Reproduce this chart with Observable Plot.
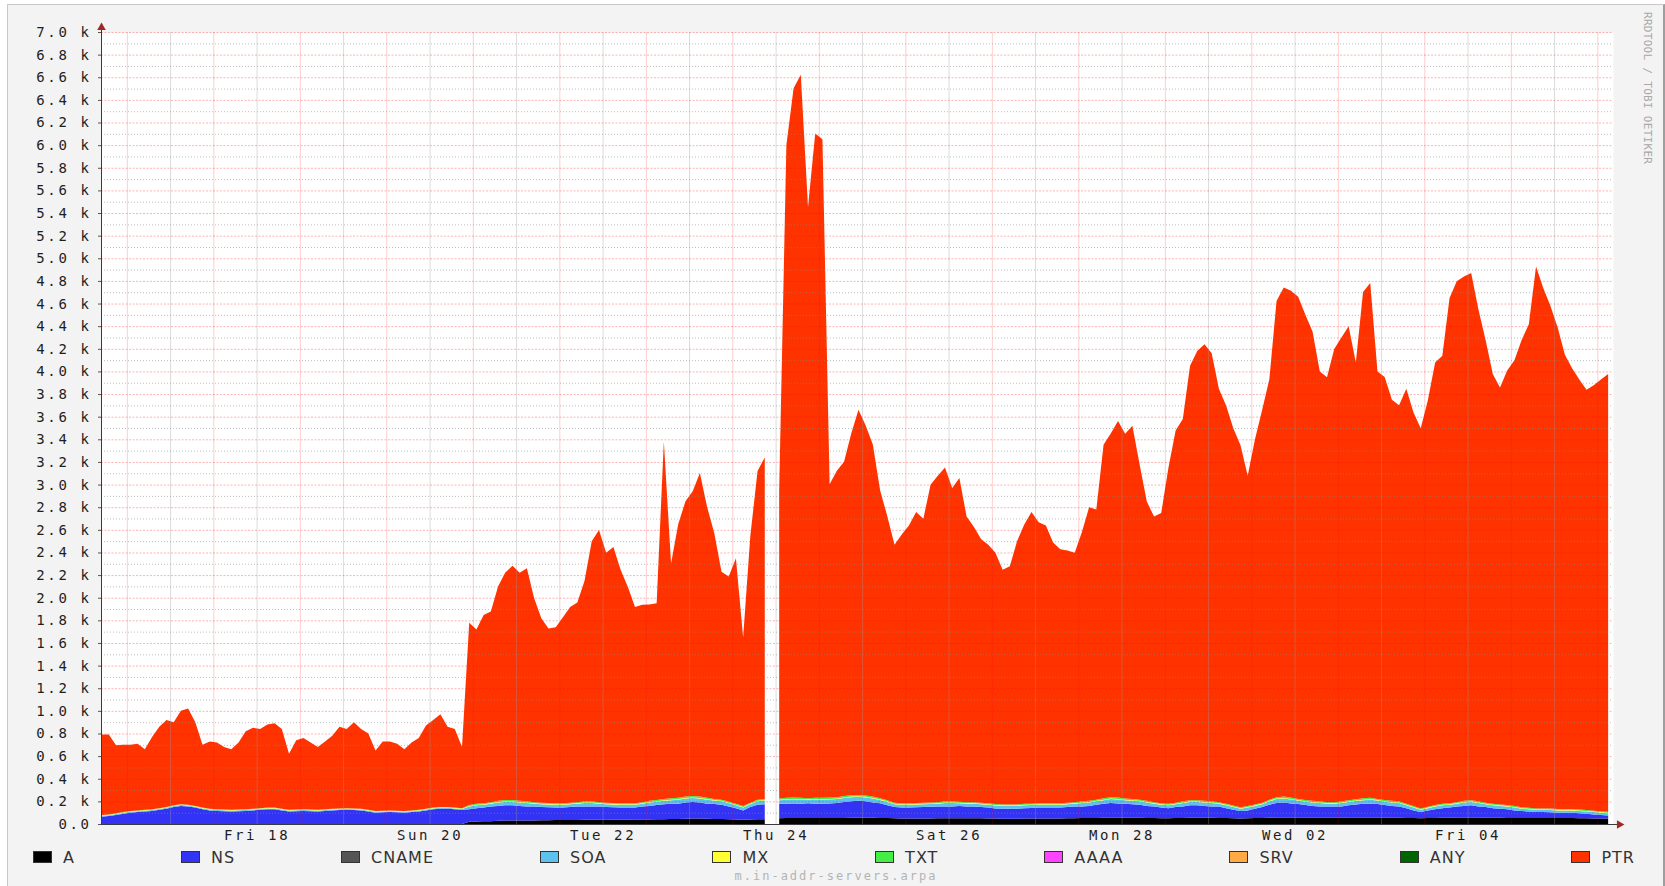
<!DOCTYPE html>
<html>
<head>
<meta charset="utf-8">
<script src="https://cdn.jsdelivr.net/npm/d3@7"></script>
<script src="https://cdn.jsdelivr.net/npm/@observablehq/plot@0.6"></script>
<style>
  html, body { margin: 0; padding: 0; background: #ffffff; }
  #frame { position: absolute; left: 7px; top: 4px; width: 1655px; height: 890px;
           background: #f3f3f3; border-top: 1px solid #c9c9c9; border-left: 1px solid #c9c9c9;
           border-right: 2px solid #9e9e9e; }
  #chart { position: absolute; left: 0; top: 0; }
  #legend { position: absolute; left: 33px; top: 850px; width: 1602px; height: 14px;
            display: flex; justify-content: space-between; align-items: center;
            font: 16px "DejaVu Sans", sans-serif; color: #333; letter-spacing: 1px; }
  #legend .item { display: flex; align-items: center; white-space: nowrap; }
  #legend .sw { display: inline-block; width: 17px; height: 10px; border: 1px solid #333; margin-right: 11px; }
  #footer { position: absolute; left: 0; width: 1672px; top: 869px; text-align: center;
            font: 12px "DejaVu Sans Mono", monospace; color: #b3b3b3; letter-spacing: 2px; }
  #credit { position: absolute; left: 1641px; top: 12px; writing-mode: vertical-rl;
            font: 11px "DejaVu Sans Mono", monospace; color: #a8a8a8; letter-spacing: 0.3px; }
</style>
</head>
<body>
<div id="frame"></div>
<div id="chart"></div>
<div id="legend"></div>
<div id="footer">m.in-addr-servers.arpa</div>
<div id="credit">RRDTOOL / TOBI OETIKER</div>
<script>
// ---- Data: queries per second, one sample every 2 hours starting Wed 16 Feb 2011 17:00 UTC ----
// index 93 is missing data (gap on Thu 24)
const startTime = Date.UTC(2011, 1, 16, 17, 0);
const stepHours = 2;

const seriesNames  = ["A", "NS", "CNAME", "SOA", "MX", "TXT", "AAAA", "SRV", "ANY", "PTR"];
const seriesColors = ["#000000", "#3333f5", "#555555", "#5cc2ee", "#ffff33", "#44ee44", "#ff44ff", "#ffaa44", "#006600", "#ff3300"];
// CNAME, AAAA, SRV and ANY are below one pixel on this scale and only appear in the legend.

const A = [
  0,0,0,0,0,0,0,0,0,0,
  0,0,0,0,0,0,0,0,0,0,
  0,0,0,0,0,0,0,0,0,0,
  0,0,0,0,0,0,0,0,0,0,
  0,0,0,0,0,0,0,0,0,0,
  0,20,22,25,25,28,30,30,30,32,
  32,33,33,35,35,35,36,38,38,38,
  38,38,38,38,40,40,40,42,42,44,
  45,46,48,48,46,45,44,42,40,38,
  40,42,42,null,50,52,52,52,52,52,
  52,52,52,54,55,56,56,55,54,52,
  50,48,48,48,48,48,50,50,50,50,
  50,50,50,48,48,46,46,46,48,48,
  48,48,48,48,50,50,52,52,54,55,
  56,56,55,55,55,54,52,50,50,52,
  54,55,55,55,55,54,52,50,48,50,
  52,54,56,58,58,58,58,57,56,56,
  55,55,56,57,58,58,58,58,57,56,
  56,54,52,50,52,54,55,56,57,58,
  58,57,56,55,55,54,53,52,52,52,
  52,52,52,52,52,50,50,48,48,48
];

const NS = [
  65,70,80,90,100,105,110,115,125,135,
  150,160,155,145,130,120,115,113,110,113,
  115,120,125,130,130,120,110,113,115,113,
  110,115,120,123,125,123,120,110,100,103,
  105,103,100,105,110,120,130,135,135,130,
  125,110,118,120,130,132,135,135,130,123,
  123,117,115,110,110,115,119,117,117,117,
  112,110,107,107,105,115,120,125,133,136,
  135,144,147,142,134,132,126,113,100,82,
  110,128,133,null,130,128,130,128,131,128,
  128,130,133,141,147,149,144,135,129,113,
  100,97,97,100,102,104,105,105,105,108,
  105,105,100,97,90,89,89,89,92,94,
  97,97,97,97,100,105,103,108,116,125,
  129,126,125,120,115,106,103,95,90,98,
  101,110,110,105,100,101,88,75,67,70,
  83,96,114,127,132,124,119,110,104,99,
  100,100,99,108,115,122,122,119,110,104,
  99,86,68,55,68,76,85,89,98,102,
  107,98,94,85,80,76,67,63,58,53,
  53,51,48,48,48,45,40,37,32,27
];

const SOA = [
  8,8,8,8,8,8,8,8,8,8,
  8,8,8,8,8,8,8,8,8,8,
  8,8,8,8,8,8,8,8,8,8,
  8,8,8,8,8,8,8,8,8,8,
  8,8,8,8,8,8,8,8,8,8,
  8,25,25,25,25,30,30,30,30,30,
  25,25,25,25,25,25,25,30,30,25,
  25,25,25,25,25,25,30,30,30,30,
  35,35,35,35,35,30,30,30,25,25,
  25,30,30,null,30,35,35,35,30,35,
  35,35,35,35,35,35,35,35,30,30,
  25,25,25,25,25,25,25,30,30,25,
  25,25,25,25,25,25,25,25,25,25,
  25,25,25,25,25,25,30,30,30,30,
  35,35,30,30,30,30,25,25,25,25,
  30,30,30,30,30,25,25,25,20,25,
  25,25,30,35,35,35,30,30,30,30,
  25,25,30,30,30,30,35,30,30,30,
  30,25,25,20,20,25,25,25,25,30,
  30,30,25,25,25,25,25,20,20,20,
  20,20,20,20,20,20,20,20,20,20
];

const MX = [
  4,4,4,4,4,4,4,4,4,4,
  4,4,4,4,4,4,4,4,4,4,
  4,4,4,4,4,4,4,4,4,4,
  4,4,4,4,4,4,4,4,4,4,
  4,4,4,4,4,4,4,4,4,4,
  4,5,5,5,5,5,5,5,5,5,
  5,5,5,5,5,5,5,5,5,5,
  5,5,5,5,5,5,5,5,5,5,
  5,5,5,5,5,5,5,5,5,5,
  5,5,5,null,5,5,5,5,5,5,
  5,5,5,5,5,5,5,5,5,5,
  5,5,5,5,5,5,5,5,5,5,
  5,5,5,5,5,5,5,5,5,5,
  5,5,5,5,5,5,5,5,5,5,
  5,5,5,5,5,5,5,5,5,5,
  5,5,5,5,5,5,5,5,5,5,
  5,5,5,5,5,5,5,5,5,5,
  5,5,5,5,5,5,5,5,5,5,
  5,5,5,5,5,5,5,5,5,5,
  5,5,5,5,5,5,5,5,5,5,
  5,5,5,5,5,5,5,5,5,5
];

const TXT = [
  3,3,3,3,3,3,3,3,3,3,
  3,3,3,3,3,3,3,3,3,3,
  3,3,3,3,3,3,3,3,3,3,
  3,3,3,3,3,3,3,3,3,3,
  3,3,3,3,3,3,3,3,3,3,
  3,8,8,8,8,10,12,12,10,10,
  8,8,8,8,8,8,8,10,10,8,
  8,8,8,8,8,8,10,10,10,12,
  12,12,12,12,12,10,10,8,8,8,
  8,10,10,null,10,12,12,12,10,12,
  12,12,12,12,12,12,12,12,10,10,
  8,8,8,8,8,8,8,10,10,8,
  8,8,8,8,8,8,8,8,8,8,
  8,8,8,8,8,8,10,10,10,12,
  12,12,10,10,10,10,8,8,8,8,
  10,10,10,10,10,8,8,8,8,8,
  8,8,10,12,12,12,10,10,10,10,
  8,8,10,10,10,12,12,10,10,10,
  10,8,8,8,8,8,8,8,8,10,
  10,10,8,8,8,8,8,8,8,8,
  8,8,8,8,8,8,8,8,8,8
];

const PTR = [
  710,705,600,595,585,590,535,640,720,770,
  735,825,850,740,555,595,590,552,535,592,
  690,715,700,735,745,705,495,612,630,592,
  555,600,645,722,700,762,705,675,535,612,
  610,592,545,600,635,735,775,820,710,695,
  540,1610,1540,1665,1685,1895,2010,2070,2015,2060,
  1805,1630,1542,1555,1645,1730,1765,1950,2300,2405,
  2210,2262,2065,1915,1735,1745,1735,1738,3160,2075,
  2420,2610,2695,2860,2570,2348,2015,1990,2170,1490,
  2360,2905,3020,null,2725,5770,6268,6390,5222,5870,
  5820,2768,2885,2955,3198,3405,3270,3110,2722,2510,
  2280,2375,2455,2572,2510,2808,2885,2950,2770,2862,
  2525,2435,2330,2285,2222,2075,2105,2325,2470,2578,
  2485,2455,2305,2245,2230,2205,2380,2595,2565,3125,
  3215,3328,3225,3300,2965,2645,2525,2565,2970,3290,
  3380,3840,3970,4035,3960,3655,3520,3335,3200,2920,
  3225,3470,3715,4385,4500,4478,4438,4288,4145,3800,
  3755,4005,4100,4190,3862,4475,4550,3778,3738,3545,
  3500,3670,3480,3360,3595,3910,3960,4465,4605,4635,
  4660,4350,4090,3800,3685,3840,3940,4130,4275,4790,
  4600,4442,4255,4015,3895,3800,3715,3760,3815,3870
];

// axis ticks
const xTickDates = ["2011-02-18T12:00Z", "2011-02-20T12:00Z", "2011-02-22T12:00Z", "2011-02-24T12:00Z",
                    "2011-02-26T12:00Z", "2011-02-28T12:00Z", "2011-03-02T12:00Z", "2011-03-04T12:00Z"];
const yTicks = d3.range(0, 7001, 200);

// ---- Build the table ----
const drawnSeries = { A, NS, SOA, MX, TXT, PTR };
const stackOrder = ["A", "NS", "SOA", "MX", "TXT", "PTR"];
const gapIndex = PTR.indexOf(null);
const rows = [];
for (let i = 0; i < PTR.length; i++) {
  const seg = i > gapIndex ? "b" : "a";
  for (const s of stackOrder) {
    const v = drawnSeries[s][i];
    if (v == null) continue;
    rows.push({ t: new Date(startTime + i * stepHours * 3600e3), series: s, key: s + "_" + seg, value: v });
  }
}
const keyOrder = [...stackOrder.map(s => s + "_a"), ...stackOrder.map(s => s + "_b")];
for (const s of stackOrder) if (drawnSeries[s].length !== PTR.length) console.warn("length mismatch", s, drawnSeries[s].length);

const xDomain = [new Date(Date.UTC(2011, 1, 16, 16, 50)), new Date(Date.UTC(2011, 2, 6, 4, 21))];
const xAxisEnd = new Date(Date.UTC(2011, 2, 6, 6, 0));
const majorX = d3.utcDay.range(d3.utcDay.ceil(xDomain[0]), xDomain[1]);
const minorX = d3.utcDay.range(d3.utcDay.floor(xDomain[0]), xDomain[1]).map(d => d3.utcHour.offset(d, 12)).filter(d => d > xDomain[0] && d < xDomain[1]);
const majorY = d3.range(200, 7001, 200);
const minorY = d3.range(100, 7000, 200);
const xTicks = xTickDates.map(d => new Date(d));
const fmtY = v => v === 0 ? "0.0" : (v / 1000).toFixed(1) + " k";

const chart = Plot.plot({
  width: 1665, height: 846,
  marginLeft: 101, marginRight: 52, marginTop: 32, marginBottom: 22,
  style: { background: "transparent", fontFamily: "'DejaVu Sans Mono', monospace", fontSize: "14px", color: "#1e1e1e", overflow: "visible" },
  x: { type: "utc", domain: xDomain, axis: null },
  y: { domain: [0, 7000], axis: null },
  color: { domain: seriesNames, range: seriesColors },
  marks: [
    Plot.frame({ fill: "white", stroke: "none" }),
    Plot.areaY(rows, Plot.stackY({ x: "t", y: "value", z: "key", fill: "series", order: keyOrder })),
    Plot.ruleX(minorX, { stroke: "#9a9a9a", strokeOpacity: 0.35 }),
    Plot.ruleX(majorX, { stroke: "#ff0000", strokeOpacity: 0.2 }),
    Plot.ruleY(minorY, { stroke: "#8a8a8a", strokeOpacity: 0.55, strokeDasharray: "1,2" }),
    Plot.ruleY(majorY, { stroke: "#ff0000", strokeOpacity: 0.3, strokeDasharray: "2,1.5" }),
    Plot.axisY({ ticks: yTicks, tickFormat: fmtY, tickSize: 3, tickPadding: 7, stroke: "#555", label: null }),
    Plot.axisX({ ticks: xTicks, tickFormat: d3.utcFormat("%a %d"), tickSize: 0, tickPadding: 6, label: null }),
    Plot.ruleY([0], { x1: () => xDomain[0], x2: () => xAxisEnd, stroke: "#3a3a3a" }),
    Plot.ruleX([xDomain[0]], { y1: 0, y2: 7030, stroke: "#3a3a3a" }),
    Plot.dot([0], { x: () => xAxisEnd, y: 0, symbol: "triangle", rotate: 90, r: 3.2, fill: "#a02828", stroke: "none" }),
    Plot.dot([0], { x: () => xDomain[0], y: 7045, symbol: "triangle", r: 3.2, fill: "#a02828", stroke: "none" })
  ]
});
document.getElementById("chart").appendChild(chart);
chart.querySelectorAll("text").forEach(t => t.style.letterSpacing = "2.6px");

// ---- Legend ----
const legend = document.getElementById("legend");
seriesNames.forEach((name, k) => {
  const item = document.createElement("span");
  item.className = "item";
  const sw = document.createElement("span");
  sw.className = "sw";
  sw.style.background = seriesColors[k];
  const label = document.createElement("span");
  label.textContent = name;
  item.append(sw, label);
  legend.appendChild(item);
});
</script>
</body>
</html>
